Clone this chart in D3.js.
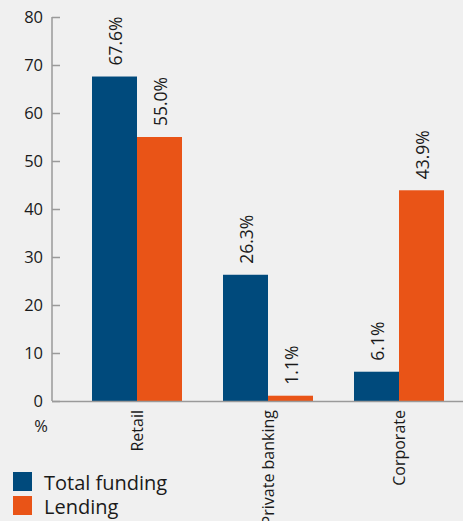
<!DOCTYPE html>
<html><head><meta charset="utf-8">
<script src="https://cdn.jsdelivr.net/npm/d3@7"></script>
<style>
html,body{margin:0;padding:0;background:#f0f0f0;}
svg{display:block;}
text{font-family:"Open Sans","Noto Sans",sans-serif;fill:#1a1a1a;}
</style></head>
<body><svg id="c" width="463" height="521"></svg>
<script>
const categories = ["Retail", "Private banking", "Corporate"];
const seriesNames = ["Total funding", "Lending"];
const totalFunding = [67.6, 26.3, 6.1];
const lending = [55.0, 1.1, 43.9];
const yTicks = [0, 10, 20, 30, 40, 50, 60, 70, 80];
const colors = ["#004a7c", "#e95417"];

const svg = d3.select("#c");
const y = d3.scaleLinear().domain([0, 80]).range([401, 17]);
const x0 = d3.scaleBand().domain(categories).range([71.5, 464.5]).padding(0);
const x1 = d3.scaleBand().domain(seriesNames).range([(131 - 90) / 2, (131 + 90) / 2]).padding(0);

const data = categories.map((c, i) => ({cat: c, vals: [totalFunding[i], lending[i]]}));

// y axis
const yAxis = svg.append("g").attr("transform", "translate(52,0)")
  .call(d3.axisLeft(y).tickValues(yTicks).tickSize(-8).tickPadding(9).tickFormat(d3.format("d")));
yAxis.select(".domain").attr("stroke", "#9a9a9a").attr("stroke-width", 1.5).attr("d", "M0," + y(80) + "V" + y(0));
yAxis.selectAll(".tick line").attr("stroke", "#9a9a9a").attr("stroke-width", 1.5);
yAxis.selectAll(".tick text").attr("font-size", 16.5).attr("fill", "#1a1a1a")
  .attr("font-family", "'Open Sans','Noto Sans',sans-serif");

// bars
const g = svg.selectAll(".grp").data(data).enter().append("g")
  .attr("transform", d => "translate(" + x0(d.cat) + ",0)");
g.selectAll("rect").data(d => d.vals.map((v, j) => ({s: seriesNames[j], v, j}))).enter().append("rect")
  .attr("x", d => x1(d.s)).attr("width", x1.bandwidth())
  .attr("y", d => y(d.v)).attr("height", d => y(0) - y(d.v))
  .attr("fill", d => colors[d.j]);
g.selectAll("text.val").data(d => d.vals.map((v, j) => ({s: seriesNames[j], v, j}))).enter().append("text")
  .attr("class", "val")
  .attr("transform", d => "translate(" + (x1(d.s) + x1.bandwidth() / 2) + "," + (y(d.v) - 11) + ") rotate(-90)")
  .attr("dy", "0.45em").attr("font-size", 17.5)
  .text(d => d.v.toFixed(1) + "%");

// x axis line
svg.append("line").attr("x1", 52).attr("x2", 463).attr("y1", 401.5).attr("y2", 401.5)
  .attr("stroke", "#9a9a9a").attr("stroke-width", 1.5);

// category labels
svg.selectAll("text.cat").data(categories).enter().append("text")
  .attr("class", "cat")
  .attr("transform", d => "translate(" + (x0(d) + x0.bandwidth() / 2) + ",410) rotate(-90)")
  .attr("text-anchor", "end").attr("dy", "0.36em").attr("font-size", 16)
  .text(d => d);

// % unit
svg.append("text").attr("x", 41).attr("y", 432).attr("text-anchor", "middle").attr("font-size", 16.5).text("%");

// legend
const leg = svg.selectAll(".leg").data(seriesNames).enter().append("g")
  .attr("transform", (d, i) => "translate(13," + (472 + i * 24) + ")");
leg.append("rect").attr("width", 19).attr("height", 19).attr("fill", (d, i) => colors[i]);
leg.append("text").attr("x", 31).attr("y", 18).attr("font-size", 20).text(d => d);
</script></body></html>
